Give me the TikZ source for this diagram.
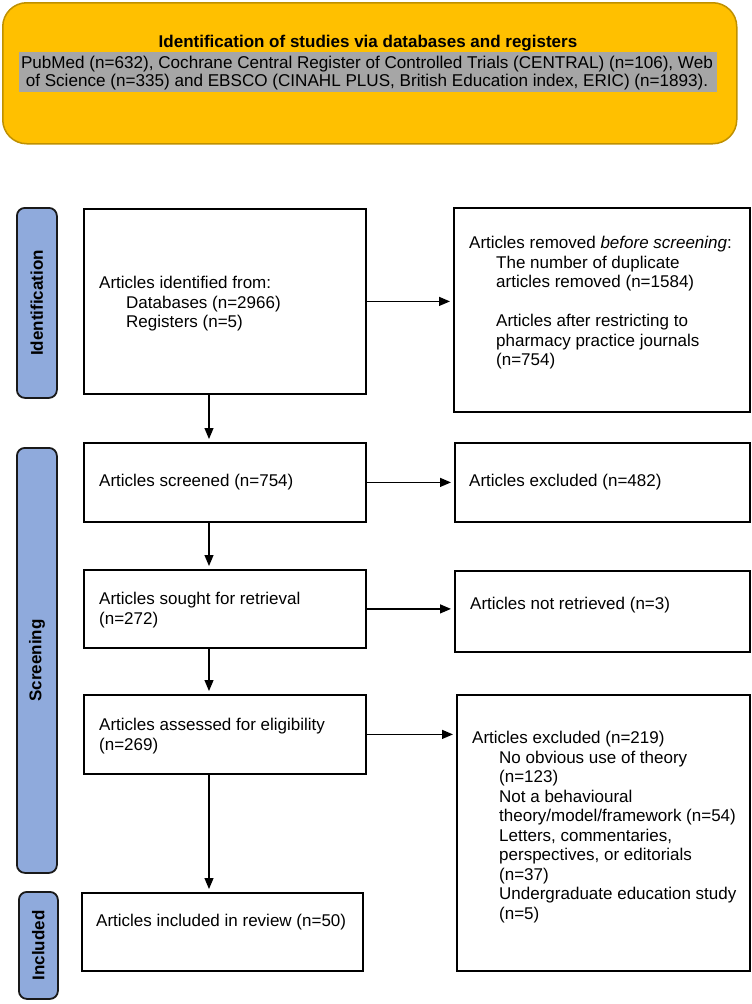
\documentclass[tikz,border=0pt]{standalone}
\usepackage{fontspec}
\setmainfont{Liberation Sans}
\usetikzlibrary{arrows.meta}
\definecolor{topfill}{HTML}{FFC000}
\definecolor{topdraw}{HTML}{BF9000}
\definecolor{bandgray}{HTML}{A6A6A6}
\definecolor{barfill}{HTML}{8FAADC}
\tikzset{
  boxshape/.style={draw=black, line width=1.8pt, inner sep=0pt, anchor=north west, fill=white},
  barshape/.style={draw=black!90, line width=1.8pt, fill=barfill, rounded corners=8pt, inner sep=0pt, anchor=north west},
  barlabel/.style={rotate=90, font=\fontsize{17}{18}\selectfont\bfseries},
  txt/.style={inner sep=0pt, align=left, font=\fontsize{17}{19.5}\selectfont},
  arr/.style={line width=1.2pt, -{Triangle[length=11pt,width=9pt]}, shorten >=3pt},
}
\newcommand{\ind}{\hspace*{27pt}}
\begin{document}
\begin{tikzpicture}[x=1pt, y=-1pt]
\useasboundingbox (0,0) rectangle (752,1004);
% top banner
\node[draw=topdraw, line width=1.5pt, fill=topfill, rounded corners=24pt, anchor=north west,
      minimum width=734pt, minimum height=141pt, inner sep=0pt] (top) at (2,2) {};
\node[fill=bandgray, anchor=north west, minimum width=698pt, minimum height=40pt, inner sep=0pt] (band) at (19,52) {};
\node[inner sep=0pt, font=\fontsize{17}{18}\selectfont\bfseries] (title) at (368,43) {Identification of studies via databases and registers};
\node[inner sep=0pt, align=center, font=\fontsize{17.1}{18}\selectfont] (srcs) at (367,73)
  {PubMed (n=632), Cochrane Central Register of Controlled Trials (CENTRAL) (n=106), Web\\
   of Science (n=335) and EBSCO (CINAHL PLUS, British Education index, ERIC) (n=1893).};
% phase bars
\node[barshape, minimum width=40pt, minimum height=190pt] (barI) at (16,207) {};
\node[barlabel] (lblI) at (barI.center) {Identification};
\node[barshape, minimum width=40pt, minimum height=425pt] (barS) at (16,447) {};
\node[barlabel] (lblS) at (barS.center) {Screening};
\node[barshape, minimum width=39pt, minimum height=107pt] (barN) at (18,891) {};
\node[barlabel] (lblN) at (barN.center) {Included};
% left column
\node[boxshape, minimum width=282pt, minimum height=185pt] (ident) at (83,208) {};
\node[txt, anchor=north west] (identT) at (99,276) {Articles identified from:\\ \ind Databases (n=2966)\\ \ind Registers (n=5)};
\node[boxshape, minimum width=282pt, minimum height=79pt] (scr) at (83,442) {};
\node[txt, anchor=west] (scrT) at (99,482) {Articles screened (n=754)};
\node[boxshape, minimum width=282pt, minimum height=78pt] (sgt) at (83,569) {};
\node[txt, anchor=north west] (sgtT) at (99,592) {Articles sought for retrieval\\(n=272)};
\node[boxshape, minimum width=282pt, minimum height=79pt] (ass) at (83,694) {};
\node[txt, anchor=north west] (assT) at (99,718) {Articles assessed for eligibility\\(n=269)};
\node[boxshape, minimum width=281pt, minimum height=78pt] (inc) at (81,892) {};
\node[txt, anchor=west] (incT) at (96,922) {Articles included in review (n=50)};
% right column
\node[boxshape, minimum width=296pt, minimum height=204pt] (rem) at (453,207) {};
\node[txt, anchor=north west] (remT) at (469,236)
  {Articles removed \textit{before screening}:\\ \ind The number of duplicate\\ \ind articles removed (n=1584)\\[19.5pt] \ind Articles after restricting to\\ \ind pharmacy practice journals\\ \ind (n=754)};
\node[boxshape, minimum width=295pt, minimum height=79pt] (exc) at (454,442) {};
\node[txt, anchor=west] (excT) at (469,482) {Articles excluded (n=482)};
\node[boxshape, minimum width=295pt, minimum height=81pt] (nr) at (454,570) {};
\node[txt, anchor=west] (nrT) at (470,605) {Articles not retrieved (n=3)};
\node[boxshape, minimum width=293pt, minimum height=276pt] (ex2) at (456,694) {};
\node[txt, anchor=north west] (ex2T) at (472,731)
  {Articles excluded (n=219)\\ \ind No obvious use of theory\\ \ind (n=123)\\ \ind Not a behavioural\\ \ind theory/model/framework (n=54)\\ \ind Letters, commentaries,\\ \ind perspectives, or editorials\\ \ind (n=37)\\ \ind Undergraduate education study\\ \ind (n=5)};
% connectors
\coordinate (ax) at (209,0);
\draw[arr] (ident.south -| ax) -- (scr.north -| ax);
\draw[arr] (scr.south -| ax) -- (sgt.north -| ax);
\draw[arr] (sgt.south -| ax) -- (ass.north -| ax);
\draw[arr] (ass.south -| ax) -- (inc.north -| ax);
\draw[arr] (ident.east) -- (rem.west |- ident.east);
\draw[arr] (scr.east) -- (exc.west |- scr.east);
\draw[arr] (sgt.east) -- (nr.west |- sgt.east);
\draw[arr] (ass.east) -- (ex2.west |- ass.east);
\end{tikzpicture}
\end{document}
